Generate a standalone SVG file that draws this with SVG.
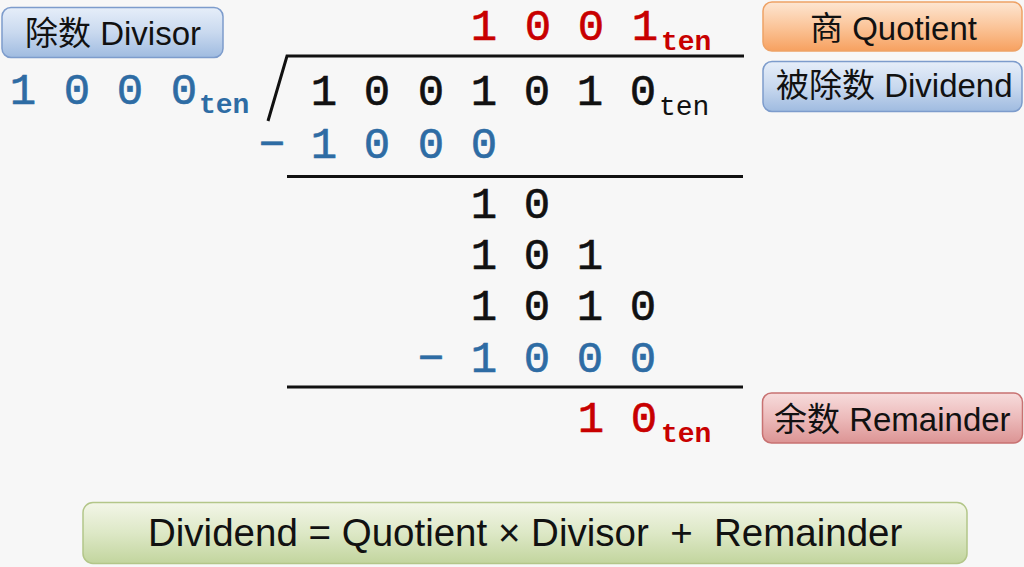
<svg xmlns="http://www.w3.org/2000/svg" width="1024" height="567" viewBox="0 0 1024 567">
<defs>
<linearGradient id="gBlue" x1="0" y1="0" x2="0" y2="1"><stop offset="0" stop-color="#e6eef9"/><stop offset="0.5" stop-color="#c9d9ef"/><stop offset="1" stop-color="#9fbbe0"/></linearGradient>
<linearGradient id="gOrange" x1="0" y1="0" x2="0" y2="1"><stop offset="0" stop-color="#fde6d2"/><stop offset="0.5" stop-color="#fbc59a"/><stop offset="1" stop-color="#f7a160"/></linearGradient>
<linearGradient id="gRed" x1="0" y1="0" x2="0" y2="1"><stop offset="0" stop-color="#f7dcdc"/><stop offset="0.5" stop-color="#ecbaba"/><stop offset="1" stop-color="#dc9494"/></linearGradient>
<linearGradient id="gGreen" x1="0" y1="0" x2="0" y2="1"><stop offset="0" stop-color="#f3f6e8"/><stop offset="0.5" stop-color="#dde8c6"/><stop offset="1" stop-color="#c2d59e"/></linearGradient>
</defs>
<style>
.lbl{font-family:"Liberation Sans","Noto Sans CJK SC",sans-serif;font-size:33px;fill:#111}
.eq{font-family:"Liberation Sans",sans-serif;font-size:38.5px;fill:#111;white-space:pre}
.d{font-family:"Liberation Mono","Courier New",monospace;font-size:44px;text-anchor:middle;stroke-width:0.6px}
.k{fill:#111;stroke:#111}
.r{fill:#c80000;stroke:#c80000}
.b{fill:#2e6ca4;stroke:#2e6ca4}
.t{font-family:"Liberation Mono","Courier New",monospace;font-size:28px;font-weight:bold;stroke-width:0}
.ln{stroke:#111;stroke-width:3;fill:none}
</style>
<rect width="1024" height="567" fill="#f7f7f7"/>

<g id="divisor-label">
<rect x="2" y="7.5" width="221" height="50" rx="9" fill="url(#gBlue)" stroke="#7d9ccc" stroke-width="1.5"/>
<text class="lbl" x="25" y="45">除数 Divisor</text>
</g>
<g id="quotient-label">
<rect x="763" y="2" width="259" height="49" rx="9" fill="url(#gOrange)" stroke="#eea266" stroke-width="1.5"/>
<text class="lbl" x="810" y="40">商 Quotient</text>
</g>
<g id="dividend-label">
<rect x="763" y="61.5" width="259" height="50" rx="9" fill="url(#gBlue)" stroke="#7d9ccc" stroke-width="1.5"/>
<text class="lbl" x="776" y="97">被除数 Dividend</text>
</g>
<g id="remainder-label">
<rect x="762.5" y="393" width="260" height="50" rx="9" fill="url(#gRed)" stroke="#c87272" stroke-width="1.5"/>
<text class="lbl" x="774" y="431">余数 Remainder</text>
</g>
<g id="equation">
<rect x="83" y="502.5" width="884" height="61" rx="10" fill="url(#gGreen)" stroke="#b3c689" stroke-width="1.5"/>
<text class="eq" x="148" y="546" xml:space="preserve">Dividend = Quotient × Divisor  +  Remainder</text>
</g>

<g id="division-lines">
<polyline class="ln" points="268,121 287,56 744,56"/>
<line class="ln" x1="287" y1="176.5" x2="743" y2="176.5"/>
<line class="ln" x1="287" y1="387" x2="743" y2="387"/>
</g>

<g id="divisor-number">
<text class="d b" x="23" y="104">1</text><text class="d b" x="77" y="104">0</text><text class="d b" x="130" y="104">0</text><text class="d b" x="184" y="104">0</text>
<text class="t b" x="199" y="113">ten</text>
</g>
<g id="quotient-number">
<text class="d r" x="484" y="40">1</text><text class="d r" x="538" y="40">0</text><text class="d r" x="591" y="40">0</text><text class="d r" x="645" y="40">1</text>
<text class="t r" x="661" y="50">ten</text>
</g>
<g id="dividend-number">
<text class="d k" x="324" y="105">1</text><text class="d k" x="377" y="105">0</text><text class="d k" x="431" y="105">0</text><text class="d k" x="484" y="105">1</text><text class="d k" x="537" y="105">0</text><text class="d k" x="590" y="105">1</text><text class="d k" x="643" y="105">0</text>
<text class="t k" x="659" y="115" style="font-weight:normal">ten</text>
</g>
<g id="subtract-1">
<text class="d b" x="272" y="158">−</text><text class="d b" x="324" y="158">1</text><text class="d b" x="377" y="158">0</text><text class="d b" x="431" y="158">0</text><text class="d b" x="484" y="158">0</text>
</g>
<g id="partial-rows">
<text class="d k" x="484" y="218">1</text><text class="d k" x="537" y="218">0</text>
<text class="d k" x="484" y="269">1</text><text class="d k" x="537" y="269">0</text><text class="d k" x="590" y="269">1</text>
<text class="d k" x="484" y="320">1</text><text class="d k" x="537" y="320">0</text><text class="d k" x="590" y="320">1</text><text class="d k" x="643" y="320">0</text>
</g>
<g id="subtract-2">
<text class="d b" x="431" y="372">−</text><text class="d b" x="484" y="372">1</text><text class="d b" x="537" y="372">0</text><text class="d b" x="590" y="372">0</text><text class="d b" x="643" y="372">0</text>
</g>
<g id="remainder-number">
<text class="d r" x="591" y="432">1</text><text class="d r" x="644" y="432">0</text>
<text class="t r" x="661" y="442">ten</text>
</g>
</svg>
